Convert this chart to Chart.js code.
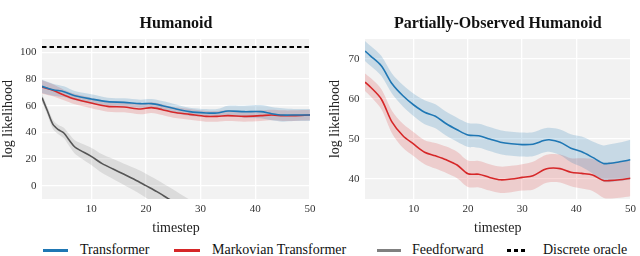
<!DOCTYPE html>
<html>
<head>
<meta charset="utf-8">
<script src="https://cdn.jsdelivr.net/npm/chart.js@4.4.1/dist/chart.umd.min.js"></script>
<style>
  body { margin: 0; background: #fff; }
  #wrap { position: relative; width: 640px; height: 256px; overflow: hidden; font-family: 'Liberation Serif', serif; }
  canvas { position: absolute; top: 0; }
  .lg-line { position: absolute; top: 248.5px; height: 3px; }
  .lg-text { position: absolute; top: 242px; font-size: 14px; line-height: 16px; color: #111; white-space: nowrap; }
</style>
</head>
<body>
<div id="wrap">
  <canvas id="left" width="320" height="240" style="left:0"></canvas>
  <canvas id="right" width="320" height="240" style="left:320px"></canvas>

  <div class="lg-line" style="left:43px;width:25px;background:#1f77b4"></div>
  <div class="lg-text" style="left:80px">Transformer</div>
  <div class="lg-line" style="left:174px;width:26px;background:#d62728"></div>
  <div class="lg-text" style="left:212px">Markovian Transformer</div>
  <div class="lg-line" style="left:377px;width:24px;background:#808080"></div>
  <div class="lg-text" style="left:412px">Feedforward</div>
  <div class="lg-line" style="left:507px;width:18px;background:repeating-linear-gradient(90deg,#000 0 4px,transparent 4px 7px)"></div>
  <div class="lg-text" style="left:543px">Discrete oracle</div>
</div>
<script>
// values

// Humanoid
const stepsL = [1, 3, 5, 7, 10, 13, 16, 19, 21, 23, 25, 28, 31, 33, 35, 38, 41, 43, 45, 47, 50];
const transformerL = [74.5, 72, 70.5, 67.5, 65, 63, 62.5, 61.5, 61.5, 60, 58, 55.5, 54.5, 54.5, 56, 55.5, 55.5, 54, 53, 53, 53];
const transformerLErr = [5, 4.5, 4, 3.5, 3.5, 3, 3, 3, 3.5, 3.5, 3.5, 3, 3, 3, 4, 4.5, 5, 5, 5, 4.5, 4.5];
const markovL = [74, 71.5, 68, 65, 62, 59.5, 59, 57.5, 58.5, 57, 55, 53.5, 52, 52, 52.5, 52, 52.5, 53, 52.5, 52.5, 53];
const markovLErr = [5, 4.5, 4, 4, 4, 4, 4, 4, 4, 4, 4, 4, 4, 4, 4, 4, 4, 4, 4, 4, 4];
const stepsFF = [1, 2, 3, 4, 5, 6, 7, 8, 10, 12, 14, 16, 18, 20, 22, 24, 26, 28, 30];
const feedforward = [66, 56, 46, 42, 39.5, 34, 29, 26.5, 22, 16.5, 12.5, 8.5, 4.5, 0, -4.5, -9.5, -14.5, -19.5, -24.5];
const feedforwardErr = [3, 3, 3.5, 3.5, 4, 4.5, 5, 5.5, 6.5, 7, 7.5, 8, 8.5, 9, 9, 9, 9, 9, 9];
const oracleSteps = [1, 50];
const oracle = [104, 104];

// Partially-Observed Humanoid
const stepsR = [1, 2, 4, 6, 8, 10, 12, 14, 16, 18, 20, 22, 24, 26, 28, 30, 32, 34, 35, 37, 39, 41, 43, 45, 46, 48, 50];
const transformerR = [72, 70.8, 68.3, 63.8, 60.8, 58.5, 56.7, 55.7, 53.8, 52.3, 51, 50.8, 50, 49.2, 48.8, 48.6, 48.7, 49.6, 49.8, 49.2, 47.7, 46.8, 45.4, 43.9, 43.9, 44.3, 44.8];
const transformerRErr = [2.5, 2.5, 2.5, 2.5, 2.7, 2.8, 3, 3, 3, 3, 3, 3, 3, 3, 3, 3, 3, 3, 3, 3.2, 3.5, 3.8, 4, 4.5, 4.7, 4.8, 5];
const markovR = [64.2, 63, 60, 54.2, 50.8, 48.7, 46.7, 45.8, 44.8, 43.5, 41.3, 41.2, 40.4, 39.8, 40, 40.4, 40.8, 42.3, 42.7, 42.6, 41.7, 41.4, 41, 39.6, 39.6, 39.8, 40.2];
const markovRErr = [2.2, 2.3, 2.5, 2.8, 3, 3, 3, 3.2, 3.3, 3.3, 3.3, 3.3, 3.3, 3.3, 3.3, 3.3, 3.5, 3.5, 3.5, 3.5, 3.5, 3.8, 4, 4.3, 4.5, 4.5, 4.5];

const xTicks = [10, 20, 30, 40, 50];
const yTicksL = [0, 20, 40, 60, 80, 100];
const yTicksR = [40, 50, 60, 70];

const SERIF = "'Liberation Serif', serif";
const BLUE = '#1f77b4', RED = '#d62728', GRAY = '#555555';

function pts(xs, ys) { return xs.map((x, i) => ({ x, y: ys[i] })); }

function band(xs, mean, err, fillColor) {
    return [
        { data: pts(xs, mean.map((m, i) => m + err[i])), borderWidth: 0, pointRadius: 0, tension: 0.3, fill: '+1', backgroundColor: fillColor, order: 2 },
        { data: pts(xs, mean.map((m, i) => m - err[i])), borderWidth: 0, pointRadius: 0, tension: 0.3, fill: false, order: 2 }
    ];
}

function line(xs, ys, color, extra) {
    return Object.assign({ data: pts(xs, ys), borderColor: color, borderWidth: 1.6, pointRadius: 0, tension: 0.3, fill: false, order: 0 }, extra || {});
}

const plotBg = {
    id: 'plotBg',
    beforeDraw(chart) {
        const { ctx, chartArea: a } = chart;
        ctx.save();
        ctx.fillStyle = '#f2f2f2';
        ctx.fillRect(a.left, a.top, a.right - a.left, a.bottom - a.top);
        ctx.restore();
    }
};

function makeChart(id, title, datasets, yMin, yMax, yTicks, yWidth, rightPad, yTitlePad) {
    return new Chart(document.getElementById(id), {
        type: 'line',
        data: { datasets },
        plugins: [plotBg],
        options: {
            responsive: false,
            animation: false,
            layout: { padding: { left: 0, right: rightPad, top: 0, bottom: 0 } },
            plugins: {
                legend: { display: false },
                tooltip: { enabled: false },
                title: {
                    display: true, text: title, fullSize: false, color: '#111',
                    font: { family: SERIF, size: 16, weight: 'bold' },
                    padding: { top: 14, bottom: 5.8 }
                }
            },
            scales: {
                x: {
                    type: 'linear', min: 1, max: 50,
                    afterBuildTicks: s => { s.ticks = xTicks.map(v => ({ value: v })); },
                    afterFit: s => { s.height = 41; },
                    grid: { color: '#ffffff', lineWidth: 1.3, drawTicks: false },
                    border: { display: false },
                    ticks: { color: '#333', padding: 4, font: { family: SERIF, size: 11 }, maxRotation: 0 },
                    title: { display: true, text: 'timestep', color: '#222', font: { family: SERIF, size: 14 }, padding: { top: 0, bottom: 3.6 } }
                },
                y: {
                    min: yMin, max: yMax,
                    afterBuildTicks: s => { s.ticks = yTicks.map(v => ({ value: v })); },
                    afterFit: s => { s.width = yWidth; },
                    grid: { color: '#ffffff', lineWidth: 1.3, drawTicks: false },
                    border: { display: false },
                    ticks: { color: '#333', padding: 5.5, font: { family: SERIF, size: 11 } },
                    title: { display: true, text: 'log likelihood', color: '#222', font: { family: SERIF, size: 14 }, padding: { top: yTitlePad, bottom: 0 } }
                }
            }
        }
    });
}

makeChart('left', 'Humanoid', [
    line(oracleSteps, oracle, '#000', { borderDash: [4.5, 3], borderWidth: 2, tension: 0 }),
    line(stepsL, transformerL, BLUE),
    line(stepsL, markovL, RED),
    line(stepsFF, feedforward, GRAY),
    ...band(stepsL, transformerL, transformerLErr, 'rgba(31,119,180,0.2)'),
    ...band(stepsL, markovL, markovLErr, 'rgba(214,39,40,0.18)'),
    ...band(stepsFF, feedforward, feedforwardErr, 'rgba(128,128,128,0.2)')
], -10, 110, yTicksL, 42, 10, 0);

makeChart('right', 'Partially-Observed Humanoid', [
    line(stepsR, transformerR, BLUE),
    line(stepsR, markovR, RED),
    ...band(stepsR, transformerR, transformerRErr, 'rgba(31,119,180,0.2)'),
    ...band(stepsR, markovR, markovRErr, 'rgba(214,39,40,0.18)')
], 35, 75, yTicksR, 45, 7, 6.6);
</script>
</body>
</html>
